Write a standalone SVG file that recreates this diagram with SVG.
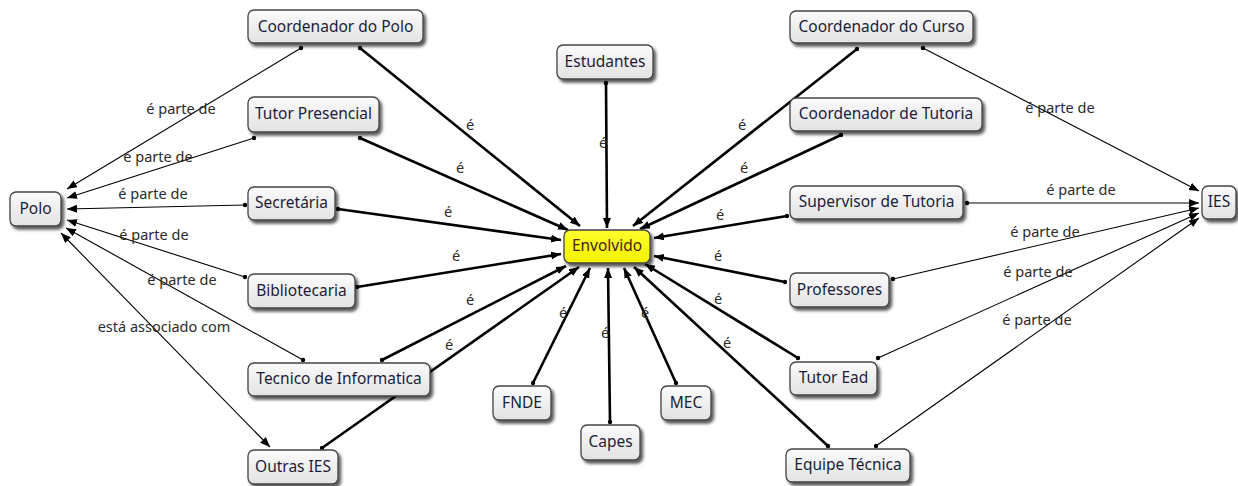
<svg xmlns="http://www.w3.org/2000/svg" width="1238" height="486" viewBox="0 0 1238 486">
  <style>
    .node rect { fill: url(#boxFill); stroke: #444; stroke-width: 1.3; filter: url(#shadow); }
    .node text { font-family: "Noto Sans", "Open Sans", sans-serif; font-size: 15.5px; fill: #1c1c3a; text-anchor: middle; }
    #envolvido rect { fill: url(#yellowFill); }
    #envolvido text { fill: #4a1c12; }
    .link { fill: none; stroke: #000; marker-start: url(#dot); }
    .thin { stroke-width: 1.1; marker-end: url(#arrow); }
    .thick { stroke-width: 2.6; marker-end: url(#arrow); }
    .both { stroke-width: 1.1; marker-start: url(#arrow); marker-end: url(#arrow); }
    .label { font-family: "Noto Sans", "Open Sans", sans-serif; font-size: 14.5px; fill: #2a2a2a; text-anchor: middle; }
  </style>
  <defs>
    <linearGradient id="boxFill" x1="0" y1="0" x2="0" y2="1">
      <stop offset="0" stop-color="#fbfbfb"/>
      <stop offset="1" stop-color="#e2e2e2"/>
    </linearGradient>
    <linearGradient id="yellowFill" x1="0" y1="0" x2="0" y2="1">
      <stop offset="0" stop-color="#ffff30"/>
      <stop offset="1" stop-color="#f2f200"/>
    </linearGradient>
    <filter id="shadow" x="-20%" y="-30%" width="140%" height="170%">
      <feDropShadow dx="2.5" dy="3" stdDeviation="1.5" flood-color="#000" flood-opacity="0.65"/>
    </filter>
    <marker id="arrow" markerUnits="userSpaceOnUse" markerWidth="12" markerHeight="10" refX="10" refY="4" orient="auto-start-reverse">
      <path d="M0,0 L10,4 L0,8 z" fill="#000"/>
    </marker>
    <marker id="dot" markerUnits="userSpaceOnUse" markerWidth="6" markerHeight="6" refX="3" refY="3">
      <circle cx="3" cy="3" r="2.2" fill="#000"/>
    </marker>
  </defs>

  <!-- connectors -->
  <g id="connectors">
    <!-- left side: é parte de Polo -->
    <line class="link thin" x1="301" y1="48" x2="67" y2="189"/>
    <line class="link thin" x1="254" y1="138" x2="67" y2="198"/>
    <line class="link thin" x1="245" y1="205" x2="67" y2="209"/>
    <line class="link thin" x1="245" y1="277" x2="67" y2="220"/>
    <line class="link thin" x1="303" y1="360" x2="66" y2="228"/>
    <line class="link both" x1="61" y1="233" x2="270" y2="447"/>

    <!-- é Envolvido -->
    <line class="link thick" x1="360" y1="48" x2="580" y2="226"/>
    <line class="link thick" x1="360" y1="138" x2="568" y2="230"/>
    <line class="link thick" x1="338" y1="209" x2="561" y2="240"/>
    <line class="link thick" x1="357" y1="287" x2="561" y2="254"/>
    <line class="link thick" x1="382" y1="360" x2="566" y2="266"/>
    <line class="link thick" x1="322" y1="448" x2="579" y2="267"/>
    <line class="link thick" x1="533" y1="383" x2="590" y2="268"/>
    <line class="link thick" x1="610" y1="422" x2="608" y2="268"/>
    <line class="link thick" x1="676" y1="383" x2="624" y2="268"/>
    <line class="link thick" x1="828" y1="446" x2="634" y2="267"/>
    <line class="link thick" x1="798" y1="358" x2="645" y2="264"/>
    <line class="link thick" x1="785" y1="282" x2="654" y2="256"/>
    <line class="link thick" x1="787" y1="216" x2="654" y2="238"/>
    <line class="link thick" x1="841" y1="135" x2="640" y2="229"/>
    <line class="link thick" x1="857" y1="49" x2="633" y2="226"/>
    <line class="link thick" x1="606" y1="83" x2="607" y2="228"/>

    <!-- right side: é parte de IES -->
    <line class="link thin" x1="923" y1="48" x2="1199" y2="191"/>
    <line class="link thin" x1="967" y1="203" x2="1199" y2="203"/>
    <line class="link thin" x1="893" y1="279" x2="1199" y2="208"/>
    <line class="link thin" x1="878" y1="358" x2="1199" y2="213"/>
    <line class="link thin" x1="876" y1="446" x2="1199" y2="218"/>

    <!-- labels -->
    <text class="label" x="181" y="114">é parte de</text>
    <text class="label" x="158" y="162">é parte de</text>
    <text class="label" x="153" y="199">é parte de</text>
    <text class="label" x="154" y="240">é parte de</text>
    <text class="label" x="182" y="285">é parte de</text>
    <text class="label" x="164" y="332">está associado com</text>

    <text class="label" x="470" y="130">é</text>
    <text class="label" x="460" y="173">é</text>
    <text class="label" x="448" y="217">é</text>
    <text class="label" x="456" y="261">é</text>
    <text class="label" x="470" y="305">é</text>
    <text class="label" x="449" y="350">é</text>
    <text class="label" x="563" y="318">é</text>
    <text class="label" x="605" y="338">é</text>
    <text class="label" x="645" y="318">é</text>
    <text class="label" x="727" y="348">é</text>
    <text class="label" x="718" y="304">é</text>
    <text class="label" x="718" y="261">é</text>
    <text class="label" x="720" y="220">é</text>
    <text class="label" x="744" y="173">é</text>
    <text class="label" x="742" y="130">é</text>
    <text class="label" x="603" y="148">é</text>

    <text class="label" x="1060" y="113">é parte de</text>
    <text class="label" x="1081" y="195">é parte de</text>
    <text class="label" x="1045" y="237">é parte de</text>
    <text class="label" x="1038" y="277">é parte de</text>
    <text class="label" x="1037" y="325">é parte de</text>
  </g>

  <!-- nodes -->
  <g id="polo" class="node"><rect x="10" y="192" width="51" height="34" rx="6"/><text x="35.5" y="214">Polo</text></g>
  <g id="coordenador-polo" class="node"><rect x="248" y="10" width="175" height="33" rx="6"/><text x="335.5" y="32">Coordenador do Polo</text></g>
  <g id="tutor-presencial" class="node"><rect x="248" y="97" width="131" height="35" rx="6"/><text x="313.5" y="119">Tutor Presencial</text></g>
  <g id="secretaria" class="node"><rect x="248" y="187" width="87" height="33" rx="6"/><text x="291.5" y="208">Secretária</text></g>
  <g id="bibliotecaria" class="node"><rect x="248" y="274" width="107" height="34" rx="6"/><text x="301.5" y="296">Bibliotecaria</text></g>
  <g id="tecnico-informatica" class="node"><rect x="248" y="363" width="182" height="33" rx="6"/><text x="339" y="384">Tecnico de Informatica</text></g>
  <g id="outras-ies" class="node"><rect x="248" y="450" width="90" height="34" rx="6"/><text x="293" y="472">Outras IES</text></g>
  <g id="envolvido" class="node"><rect x="564" y="230" width="86" height="33" rx="6"/><text x="607" y="251">Envolvido</text></g>
  <g id="estudantes" class="node"><rect x="557" y="45" width="96" height="34" rx="6"/><text x="605" y="67">Estudantes</text></g>
  <g id="fnde" class="node"><rect x="493" y="386" width="58" height="34" rx="6"/><text x="522" y="408">FNDE</text></g>
  <g id="capes" class="node"><rect x="581" y="425" width="59" height="35" rx="6"/><text x="610.5" y="447">Capes</text></g>
  <g id="mec" class="node"><rect x="661" y="386" width="50" height="34" rx="6"/><text x="686" y="408">MEC</text></g>
  <g id="coordenador-curso" class="node"><rect x="790" y="11" width="183" height="32" rx="6"/><text x="881.5" y="32">Coordenador do Curso</text></g>
  <g id="coordenador-tutoria" class="node"><rect x="790" y="98" width="192" height="33" rx="6"/><text x="886" y="119">Coordenador de Tutoria</text></g>
  <g id="supervisor-tutoria" class="node"><rect x="790" y="186" width="173" height="33" rx="6"/><text x="876.5" y="207">Supervisor de Tutoria</text></g>
  <g id="professores" class="node"><rect x="790" y="273" width="99" height="34" rx="6"/><text x="839.5" y="295">Professores</text></g>
  <g id="tutor-ead" class="node"><rect x="790" y="362" width="87" height="33" rx="6"/><text x="833.5" y="383">Tutor Ead</text></g>
  <g id="equipe-tecnica" class="node"><rect x="786" y="449" width="124" height="33" rx="6"/><text x="848" y="470">Equipe Técnica</text></g>
  <g id="ies" class="node"><rect x="1202" y="186" width="34" height="33" rx="6"/><text x="1219" y="207">IES</text></g>
</svg>
